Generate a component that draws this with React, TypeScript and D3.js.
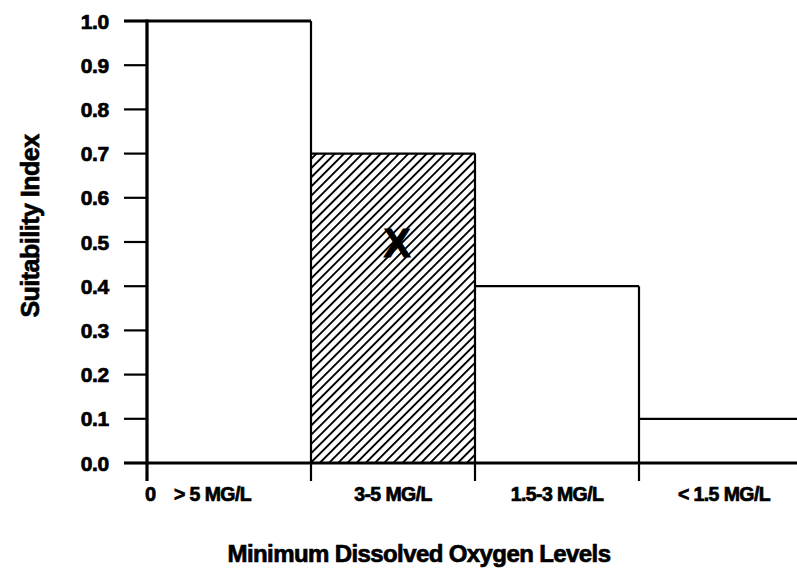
import React from "react";
import * as d3 from "d3";

const categories = ["> 5 MG/L", "3-5 MG/L", "1.5-3 MG/L", "< 1.5 MG/L"];
const values = [1.0, 0.7, 0.4, 0.1];
const hatched = [false, true, false, false];
const yTicks = [0, 0.1, 0.2, 0.3, 0.4, 0.5, 0.6, 0.7, 0.8, 0.9, 1.0];

const W = 797;
const H = 571;
const FONT = "'Liberation Sans', Arial, Helvetica, sans-serif";
const heavy = { stroke: "#000", strokeWidth: 0.7, paintOrder: "stroke" as const };

export default function App() {
  const x = d3.scaleLinear().domain([0, 4]).range([147, 803]);
  const y = d3.scaleLinear().domain([0, 1]).range([463, 21]);

  // step outline of the bars
  const outline = d3.path();
  values.forEach((v, i) => {
    const x0 = x(i);
    const x1 = x(i + 1);
    const prev = i === 0 ? 0 : values[i - 1];
    outline.moveTo(x0, y(Math.max(prev, v)));
    outline.lineTo(x0, y(0));
    outline.moveTo(x0, y(v));
    outline.lineTo(x1, y(v));
  });

  return (
    <svg width={W} height={H} style={{ position: "absolute", left: 0, top: 0, background: "#fff" }}>
      <defs>
        <pattern id="hatch" patternUnits="userSpaceOnUse" width={6.5} height={6.5} patternTransform="rotate(45)">
          <rect width={6.5} height={6.5} fill="#fff" />
          <line x1={0} y1={0} x2={0} y2={6.5} stroke="#000" strokeWidth={3.8} />
        </pattern>
      </defs>
      <rect width={W} height={H} fill="#fff" />

      {values.map((v, i) =>
        hatched[i] ? (
          <rect key={i} x={x(i)} y={y(v)} width={x(i + 1) - x(i)} height={y(0) - y(v)} fill="url(#hatch)" />
        ) : null
      )}

      <path d={outline.toString()} fill="none" stroke="#000" strokeWidth={2.2} />

      {/* top line extends to left with tick */}
      <line x1={124} x2={x(1)} y1={y(1)} y2={y(1)} stroke="#000" strokeWidth={3} />

      {/* y axis */}
      <line x1={x(0)} x2={x(0)} y1={y(1) - 1.5} y2={y(0) + 18} stroke="#000" strokeWidth={3.2} />
      {yTicks.map((t) => (
        <g key={t}>
          <line x1={124} x2={x(0)} y1={y(t)} y2={y(t)} stroke="#000" strokeWidth={2.2} />
          <text
            x={109}
            y={y(t)}
            dy="0.36em"
            textAnchor="end"
            fontFamily={FONT}
            fontWeight={700}
            fontSize={21}
            letterSpacing={-0.3}
            {...heavy}
          >
            {t.toFixed(1)}
          </text>
        </g>
      ))}

      {/* x axis */}
      <line x1={124} x2={W} y1={y(0)} y2={y(0)} stroke="#000" strokeWidth={3.2} />
      {[1, 2, 3].map((i) => (
        <line key={i} x1={x(i)} x2={x(i)} y1={y(0)} y2={y(0) + 18} stroke="#000" strokeWidth={2.2} />
      ))}

      <text x={145} y={501} fontFamily={FONT} fontWeight={700} fontSize={20} {...heavy}>0</text>
      {categories.map((c, i) => (
        <text
          key={c}
          x={i === 0 ? 174 : i === 3 ? 724 : (x(i) + x(i + 1)) / 2}
          y={501}
          textAnchor={i === 0 ? "start" : "middle"}
          fontFamily={FONT}
          fontWeight={700}
          fontSize={19.5}
          letterSpacing={-0.6}
          {...heavy}
        >
          {c}
        </text>
      ))}

      <text
        x={397}
        y={257}
        textAnchor="middle"
        fontFamily={FONT}
        fontWeight={700}
        fontSize={40}
        {...heavy}
        strokeWidth={1.2}
      >
        X
      </text>

      <text
        x={419}
        y={562}
        textAnchor="middle"
        fontFamily={FONT}
        fontWeight={700}
        fontSize={24}
        letterSpacing={-0.6}
        {...heavy}
      >
        Minimum Dissolved Oxygen Levels
      </text>

      <text
        transform={`translate(39, 226) rotate(-90)`}
        textAnchor="middle"
        fontFamily={FONT}
        fontWeight={700}
        fontSize={25}
        letterSpacing={-0.5}
        {...heavy}
      >
        Suitability Index
      </text>
    </svg>
  );
}
